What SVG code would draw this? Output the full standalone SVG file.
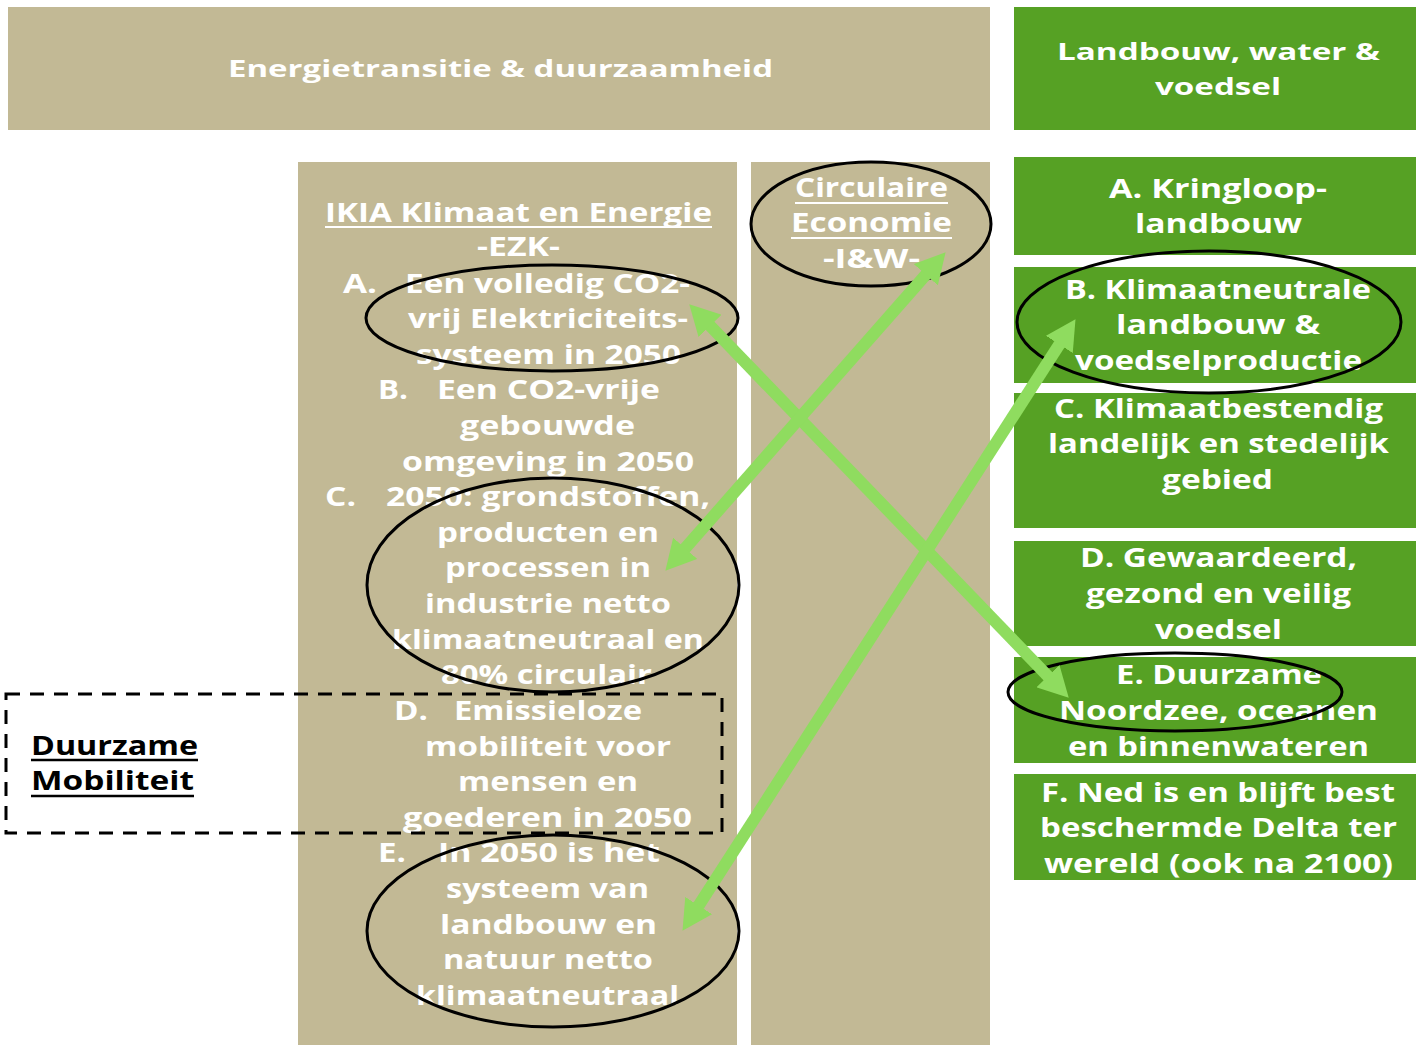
<svg xmlns="http://www.w3.org/2000/svg" width="1416" height="1045" viewBox="0 0 1416 1045">
<style>
.tan{fill:#c2b995}
.grn{fill:#56a124}
.t{font-family:"Open Sans","Liberation Sans",sans-serif;font-weight:700;font-size:27px;fill:#ffffff}
.h{font-size:24px}
.k{fill:#000000}
.ul{stroke:#ffffff;stroke-width:2}
.ulk{stroke:#000000;stroke-width:2.5}
.ell{fill:none;stroke:#000000;stroke-width:3}
.arr{fill:none;stroke:#8fdc5f;stroke-width:12;marker-start:url(#ah);marker-end:url(#ah)}
</style>
<defs>
<marker id="ah" markerUnits="userSpaceOnUse" markerWidth="30" markerHeight="32" viewBox="0 0 30 32" refX="3" refY="16" orient="auto-start-reverse">
<path d="M0,0 L30,16 L0,32 z" fill="#8fdc5f"/>
</marker>
</defs>
<rect width="1416" height="1045" fill="#ffffff"/>

<g id="header-energie">
<rect class="tan" x="8" y="7" width="982" height="123"/>
<text class="t h" x="228" y="77" textLength="545" lengthAdjust="spacingAndGlyphs">Energietransitie &amp; duurzaamheid</text>
</g>

<g id="header-landbouw">
<rect class="grn" x="1014" y="7" width="402" height="123"/>
<text class="t h" x="1057" y="60" textLength="323" lengthAdjust="spacingAndGlyphs">Landbouw, water &amp;</text>
<text class="t h" x="1155" y="95" textLength="126" lengthAdjust="spacingAndGlyphs">voedsel</text>
</g>

<g id="ikia-column">
<rect class="tan" x="298" y="162" width="439" height="883"/>
<text class="t" x="325" y="222" textLength="387" lengthAdjust="spacingAndGlyphs">IKIA Klimaat en Energie</text>
<line class="ul" x1="325" y1="227" x2="712" y2="227"/>
<text class="t" x="477" y="256" textLength="83" lengthAdjust="spacingAndGlyphs">-EZK-</text>
<text class="t" x="343" y="293" textLength="34" lengthAdjust="spacingAndGlyphs">A.</text>
<text class="t" x="405" y="293" textLength="285" lengthAdjust="spacingAndGlyphs">Een volledig CO2-</text>
<text class="t" x="408" y="328" textLength="280" lengthAdjust="spacingAndGlyphs">vrij Elektriciteits-</text>
<text class="t" x="416" y="364" textLength="265" lengthAdjust="spacingAndGlyphs">systeem in 2050</text>
<text class="t" x="378" y="399" textLength="30" lengthAdjust="spacingAndGlyphs">B.</text>
<text class="t" x="437" y="399" textLength="223" lengthAdjust="spacingAndGlyphs">Een CO2-vrije</text>
<text class="t" x="460" y="435" textLength="175" lengthAdjust="spacingAndGlyphs">gebouwde</text>
<text class="t" x="402" y="471" textLength="292" lengthAdjust="spacingAndGlyphs">omgeving in 2050</text>
<text class="t" x="325" y="506" textLength="31" lengthAdjust="spacingAndGlyphs">C.</text>
<text class="t" x="386" y="506" textLength="324" lengthAdjust="spacingAndGlyphs">2050: grondstoffen,</text>
<text class="t" x="437" y="542" textLength="222" lengthAdjust="spacingAndGlyphs">producten en</text>
<text class="t" x="445" y="577" textLength="206" lengthAdjust="spacingAndGlyphs">processen in</text>
<text class="t" x="425" y="613" textLength="246" lengthAdjust="spacingAndGlyphs">industrie netto</text>
<text class="t" x="392" y="649" textLength="312" lengthAdjust="spacingAndGlyphs">klimaatneutraal en</text>
<text class="t" x="441" y="684" textLength="211" lengthAdjust="spacingAndGlyphs">80% circulair</text>
<text class="t" x="394" y="720" textLength="34" lengthAdjust="spacingAndGlyphs">D.</text>
<text class="t" x="454" y="720" textLength="188" lengthAdjust="spacingAndGlyphs">Emissieloze</text>
<text class="t" x="425" y="756" textLength="246" lengthAdjust="spacingAndGlyphs">mobiliteit voor</text>
<text class="t" x="458" y="791" textLength="180" lengthAdjust="spacingAndGlyphs">mensen en</text>
<text class="t" x="403" y="827" textLength="289" lengthAdjust="spacingAndGlyphs">goederen in 2050</text>
<text class="t" x="378" y="862" textLength="28" lengthAdjust="spacingAndGlyphs">E.</text>
<text class="t" x="438" y="862" textLength="222" lengthAdjust="spacingAndGlyphs">In 2050 is het</text>
<text class="t" x="446" y="898" textLength="203" lengthAdjust="spacingAndGlyphs">systeem van</text>
<text class="t" x="440" y="934" textLength="217" lengthAdjust="spacingAndGlyphs">landbouw en</text>
<text class="t" x="443" y="969" textLength="210" lengthAdjust="spacingAndGlyphs">natuur netto</text>
<text class="t" x="416" y="1005" textLength="263" lengthAdjust="spacingAndGlyphs">klimaatneutraal</text>
</g>

<g id="duurzame-mobiliteit">
<rect x="6" y="694" width="716" height="139" fill="none" stroke="#000" stroke-width="3" stroke-dasharray="14 10"/>
<text class="t k" x="31" y="755" textLength="167" lengthAdjust="spacingAndGlyphs">Duurzame</text>
<line class="ulk" x1="31" y1="760" x2="198" y2="760"/>
<text class="t k" x="31" y="790" textLength="163" lengthAdjust="spacingAndGlyphs">Mobiliteit</text>
<line class="ulk" x1="31" y1="796" x2="194" y2="796"/>
</g>

<g id="circulaire-column">
<rect class="tan" x="751" y="162" width="239" height="883"/>
<text class="t" x="795" y="197" textLength="153" lengthAdjust="spacingAndGlyphs">Circulaire</text>
<line class="ul" x1="795" y1="203" x2="948" y2="203"/>
<text class="t" x="791" y="232" textLength="161" lengthAdjust="spacingAndGlyphs">Economie</text>
<line class="ul" x1="791" y1="238" x2="952" y2="238"/>
<text class="t" x="823" y="268" textLength="97" lengthAdjust="spacingAndGlyphs">-I&amp;W-</text>
</g>

<g id="lwv-a">
<rect class="grn" x="1014" y="157" width="402" height="98"/>
<text class="t" x="1109" y="198" textLength="218" lengthAdjust="spacingAndGlyphs">A. Kringloop-</text>
<text class="t" x="1135" y="233" textLength="167" lengthAdjust="spacingAndGlyphs">landbouw</text>
</g>
<g id="lwv-b">
<rect class="grn" x="1014" y="267" width="402" height="116"/>
<text class="t" x="1065" y="299" textLength="306" lengthAdjust="spacingAndGlyphs">B. Klimaatneutrale</text>
<text class="t" x="1116" y="334" textLength="204" lengthAdjust="spacingAndGlyphs">landbouw &amp;</text>
<text class="t" x="1075" y="370" textLength="287" lengthAdjust="spacingAndGlyphs">voedselproductie</text>
</g>
<g id="lwv-c">
<rect class="grn" x="1014" y="393" width="402" height="135"/>
<text class="t" x="1054" y="418" textLength="329" lengthAdjust="spacingAndGlyphs">C. Klimaatbestendig</text>
<text class="t" x="1048" y="453" textLength="341" lengthAdjust="spacingAndGlyphs">landelijk en stedelijk</text>
<text class="t" x="1162" y="489" textLength="111" lengthAdjust="spacingAndGlyphs">gebied</text>
</g>
<g id="lwv-d">
<rect class="grn" x="1014" y="541" width="402" height="105"/>
<text class="t" x="1080" y="567" textLength="277" lengthAdjust="spacingAndGlyphs">D. Gewaardeerd,</text>
<text class="t" x="1086" y="603" textLength="265" lengthAdjust="spacingAndGlyphs">gezond en veilig</text>
<text class="t" x="1155" y="639" textLength="127" lengthAdjust="spacingAndGlyphs">voedsel</text>
</g>
<g id="lwv-e">
<rect class="grn" x="1014" y="657" width="402" height="106"/>
<text class="t" x="1116" y="684" textLength="206" lengthAdjust="spacingAndGlyphs">E. Duurzame</text>
<text class="t" x="1059" y="720" textLength="319" lengthAdjust="spacingAndGlyphs">Noordzee, oceanen</text>
<text class="t" x="1068" y="756" textLength="301" lengthAdjust="spacingAndGlyphs">en binnenwateren</text>
</g>
<g id="lwv-f">
<rect class="grn" x="1014" y="774" width="402" height="106"/>
<text class="t" x="1041" y="802" textLength="354" lengthAdjust="spacingAndGlyphs">F. Ned is en blijft best</text>
<text class="t" x="1040" y="837" textLength="357" lengthAdjust="spacingAndGlyphs">beschermde Delta ter</text>
<text class="t" x="1044" y="873" textLength="349" lengthAdjust="spacingAndGlyphs">wereld (ook na 2100)</text>
</g>

<g id="highlights">
<ellipse class="ell" cx="871" cy="224" rx="120" ry="62"/>
<ellipse class="ell" cx="552" cy="318" rx="186" ry="53"/>
<ellipse class="ell" cx="553" cy="585" rx="186" ry="107"/>
<ellipse class="ell" cx="553" cy="931" rx="186" ry="96"/>
<ellipse class="ell" cx="1209" cy="322" rx="192" ry="71"/>
<ellipse class="ell" cx="1175" cy="692" rx="167" ry="39"/>
</g>

<g id="connectors">
<line class="arr" x1="708" y1="323.7" x2="1050" y2="678.3"/>
<line class="arr" x1="927.8" y1="272.5" x2="683.2" y2="550.5"/>
<line class="arr" x1="1060.9" y1="341.9" x2="697.1" y2="908.1"/>
</g>
</svg>
